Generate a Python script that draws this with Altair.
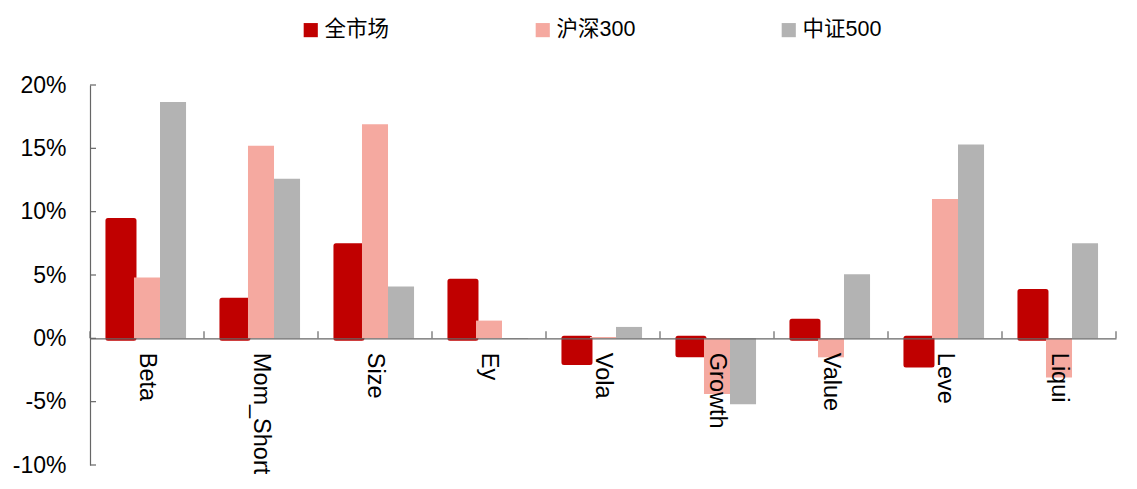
import altair as alt
import pandas as pd

categories = ["Beta", "Mom_Short", "Size", "Ey", "Vola", "Growth", "Value", "Leve", "Liqui"]
series = ["全市场", "沪深300", "中证500"]
v_all = [9.3, 3.0, 7.3, 4.5, -1.9, -1.3, 1.35, -2.1, 3.7]
v_hs300 = [4.8, 15.2, 16.9, 1.4, 0.1, -4.4, -1.5, 11.0, -3.1]
v_zz500 = [18.65, 12.6, 4.1, -0.05, 0.9, -5.2, 5.05, 15.3, 7.5]
y_ticks = [-0.10, -0.05, 0.0, 0.05, 0.10, 0.15, 0.20]
colors = ["#C00000", "#F5A9A0", "#B3B3B3"]

rows = []
for s, vals in zip(series, [v_all, v_hs300, v_zz500]):
    for c, v in zip(categories, vals):
        rows.append({"cat": c, "series": s, "value": v / 100.0})
df = pd.DataFrame(rows)
ticks_df = pd.DataFrame({"v": y_ticks})
cats_df = pd.DataFrame({"cat": categories})
last_df = pd.DataFrame({"cat": categories[-1:]})

FONT = "Liberation Sans, Arial, Noto Sans CJK SC"
AXC = "#666666"
W, H = 1026, 380
zero_off = -H * 10 / 30

x_scale = alt.Scale(domain=categories, paddingInner=0, paddingOuter=0)
y_scale = alt.Scale(domain=[-0.10, 0.20], nice=False)

bars = alt.Chart(df).mark_bar(strokeJoin="round").encode(
    x=alt.X("cat:N", sort=categories, scale=x_scale,
            axis=alt.Axis(title=None, orient="bottom", offset=zero_off, labelAngle=90,
                          labelAlign="left", labelBaseline="middle", ticks=False,
                          domainColor=AXC, domainWidth=1.2, labelPadding=14,
                          labelFontSize=23.5, labelFont=FONT, labelColor="#000000", zindex=1)),
    xOffset=alt.XOffset("series:N", sort=series,
                        scale=alt.Scale(domain=series, paddingInner=0, paddingOuter=0.69)),
    y=alt.Y("value:Q", scale=y_scale,
            axis=alt.Axis(title=None, values=y_ticks, ticks=False, grid=False,
                          domainColor=AXC, domainWidth=1.2, labelPadding=24,
                          labelFontSize=23, labelFont=FONT, labelColor="#000000",
                          labelExpr="round(datum.value*100) + '%'")),
    color=alt.Color("series:N", sort=series,
                    scale=alt.Scale(domain=series, range=colors),
                    legend=alt.Legend(title=None, orient="none", direction="horizontal",
                                      legendX=210, legendY=-66, symbolType="square",
                                      symbolSize=200, symbolStrokeWidth=0,
                                      labelFontSize=21.5, labelFont=FONT, labelColor="#000000",
                                      labelOffset=3, columnPadding=142)),
    stroke=alt.Stroke("series:N", sort=series,
                      scale=alt.Scale(domain=series, range=colors), legend=None),
    strokeWidth=alt.condition(alt.datum.series == "全市场", alt.value(5), alt.value(0)),
)

ytick_rules = alt.Chart(ticks_df).mark_rule(color=AXC, strokeWidth=1.2).encode(
    x=alt.value(0), x2=alt.value(6), y=alt.Y("v:Q", scale=y_scale)
)

xtick_rules = alt.Chart(cats_df).mark_rule(color=AXC, strokeWidth=1.2).encode(
    x=alt.X("cat:N", sort=categories, scale=x_scale, bandPosition=0),
    y=alt.datum(0.0), y2=alt.datum(0.0055)
)
xtick_last = alt.Chart(last_df).mark_rule(color=AXC, strokeWidth=1.2).encode(
    x=alt.X("cat:N", sort=categories, scale=x_scale, bandPosition=1),
    y=alt.datum(0.0), y2=alt.datum(0.0055)
)

chart = alt.layer(bars, ytick_rules, xtick_rules, xtick_last).properties(
    width=W, height=H,
    background="white",
    autosize=alt.AutoSizeParams(type="none"),
    padding={"left": 82, "top": 77, "right": 13, "bottom": 16},
).configure_view(strokeWidth=0, stroke="transparent")

chart.save("out.html", embed_options={"renderer": "svg", "actions": False})
